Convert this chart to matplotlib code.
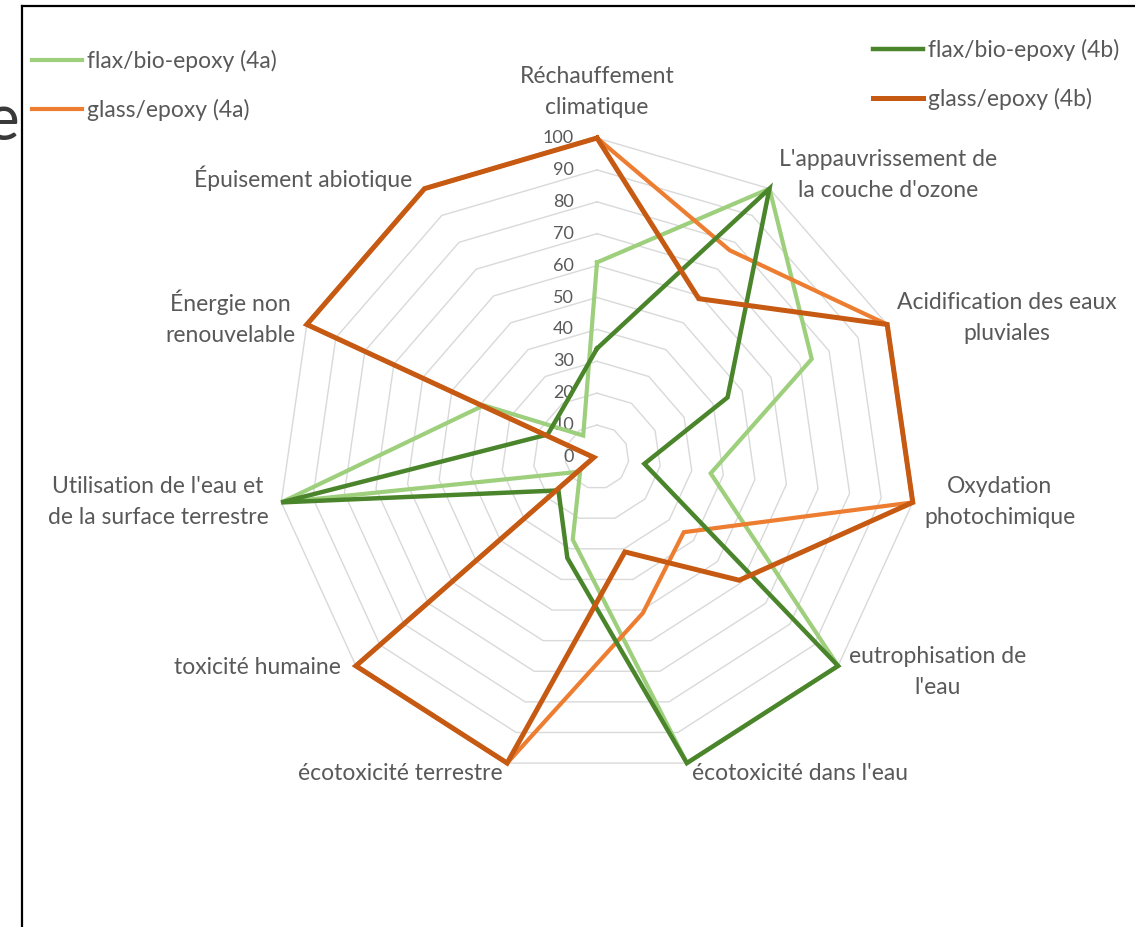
import numpy as np
import matplotlib.pyplot as plt
from matplotlib.lines import Line2D

plt.rcParams['font.family'] = ['Lato', 'DejaVu Sans']

# --- Données (indicateurs normalisés, 0-100) ---
categories = [
    "Réchauffement\nclimatique",
    "L'appauvrissement de\nla couche d'ozone",
    "Acidification des eaux\npluviales",
    "Oxydation\nphotochimique",
    "eutrophisation de\nl'eau",
    "écotoxicité dans l'eau",
    "écotoxicité terrestre",
    "toxicité humaine",
    "Utilisation de l'eau et\nde la surface terrestre",
    "Énergie non\nrenouvelable",
    "Épuisement abiotique",
]
flax_4a = [61, 100, 74, 36, 100, 100, 27, 7, 100, 39, 8]
glass_4a = [100, 77, 100, 100, 36, 51, 100, 100, 1, 100, 100]
flax_4b = [34, 100, 45, 15, 100, 100, 33, 16, 100, 17, 19]
glass_4b = [100, 59, 100, 100, 59, 31, 100, 100, 1, 100, 100]
ticks = [0, 10, 20, 30, 40, 50, 60, 70, 80, 90, 100]

# positions des libellés d'axes (coordonnées du graphique)
label_xy = [(0, 114.4), (91.2, 88.4), (128.5, 43.6), (126.3, -14.1),
            (106.9, -67.4), (63.6, -99.1), (-61.8, -99.1), (-106.3, -66.1),
            (-137.6, -14.1), (-115.0, 43.6), (-92.2, 87.5)]

n = len(categories)
theta = np.pi / 2 - np.arange(n) * 2 * np.pi / n


def closed_xy(vals):
    v = np.append(vals, vals[0])
    t = np.append(theta, theta[0])
    return v * np.cos(t), v * np.sin(t)


W, H = 1135, 927
cx, cy, scale = 597, 457, 3.19
fig = plt.figure(figsize=(W / 100, H / 100), dpi=100)
ax = fig.add_axes([0, 0, 1, 1])
ax.set_xlim(-cx / scale, (W - cx) / scale)
ax.set_ylim((cy - H) / scale, cy / scale)
ax.axis('off')

# grille polygonale
for r in ticks[1:]:
    gx, gy = closed_xy(np.full(n, r))
    ax.plot(gx, gy, color='#d9d9d9', lw=1.0, zorder=1)

txt = '#595959'
for r in ticks:
    ax.text(-7.2, r, str(r), ha='right', va='center', fontsize=13, color=txt, zorder=2)

series = [
    (flax_4a, 'flax/bio-epoxy (4a)', '#9dcf7c', 3.0),
    (glass_4a, 'glass/epoxy (4a)', '#ed7d31', 3.0),
    (flax_4b, 'flax/bio-epoxy (4b)', '#4a852b', 3.2),
    (glass_4b, 'glass/epoxy (4b)', '#c65a12', 3.6),
]
handles = []
for vals, name, col, lw in series:
    sx, sy = closed_xy(np.array(vals, dtype=float))
    h, = ax.plot(sx, sy, color=col, lw=lw, label=name, zorder=3,
                 solid_joinstyle='miter')
    handles.append(h)

for lab, (lx, ly) in zip(categories, label_xy):
    ax.text(lx, ly, lab, ha='center', va='center', fontsize=16.5,
            color=txt, linespacing=1.6)

leg_kw = dict(frameon=False, fontsize=16.5, handlelength=2.2, handletextpad=0.22,
              labelspacing=1.15, borderpad=0, borderaxespad=0, labelcolor=txt)
leg1 = fig.legend(handles[:2], [h.get_label() for h in handles[:2]],
                  loc='upper left', bbox_to_anchor=(32 / W, 1 - 50 / H), **leg_kw)
leg2 = fig.legend(handles[2:], [h.get_label() for h in handles[2:]],
                  loc='upper left', bbox_to_anchor=(873 / W, 1 - 39 / H), **leg_kw)

# cadre de la capture
fig.add_artist(Line2D([22 / W, 22 / W], [0, 1 - 6 / H], color='black', lw=1.6,
                      transform=fig.transFigure))
fig.add_artist(Line2D([22 / W, 1], [1 - 6 / H, 1 - 6 / H], color='black', lw=1.6,
                      transform=fig.transFigure))
fig.text(19 / W, 1 - 140 / H, 'e', ha='right', va='baseline', fontsize=46,
         color='#3a3a3a')

fig.savefig('out.png', dpi=100)
